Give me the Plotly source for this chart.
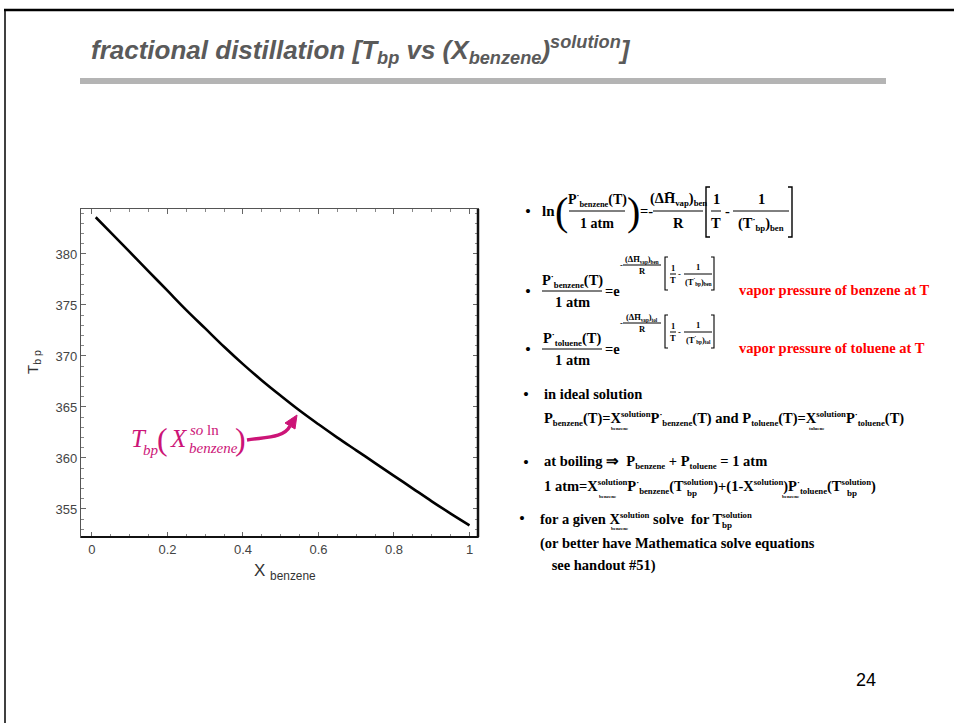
import plotly.graph_objects as go

# ---- data: ideal benzene/toluene solution boiling point at 1 atm ----
x_benzene = [0.01, 0.05, 0.10, 0.15, 0.20, 0.25, 0.30, 0.35, 0.40, 0.45, 0.50,
             0.55, 0.60, 0.65, 0.70, 0.75, 0.80, 0.85, 0.90, 0.95, 1.00]
T_bp = [383.6, 382.1, 380.2, 378.3, 376.4, 374.5, 372.7, 370.9, 369.2, 367.6, 366.1,
        364.65, 363.3, 362.0, 360.75, 359.5, 358.25, 357.0, 355.75, 354.55, 353.4]
x_ticks = [0, 0.2, 0.4, 0.6, 0.8, 1.0]
x_ticklabels = ["0", "0.2", "0.4", "0.6", "0.8", "1"]
y_ticks = [355, 360, 365, 370, 375, 380]

W, H = 954, 723
L, R, TOP, BOT = 81, 478, 209, 537
SERIF = "Liberation Serif, Times New Roman, serif"
SANS = "Liberation Sans, Arial, sans-serif"
MAGENTA = "#cc1477"
FS = 14.5  # body text size for the equations


def px(x):
    return (x - L) / (R - L)


def py(y):
    return (BOT - y) / (BOT - TOP)


annotations = []
shapes = []


def text(x, y, s, size=FS, color="black", family=SERIF, xa="left", ya="middle", angle=0):
    annotations.append(dict(x=px(x), y=py(y), xref="paper", yref="paper", text=s,
                            showarrow=False, xanchor=xa, yanchor=ya, textangle=angle,
                            font=dict(size=size, color=color, family=family)))


def seg(x0, y0, x1, y1, w=1.0, color="black"):
    shapes.append(dict(type="line", xref="paper", yref="paper", x0=px(x0), y0=py(y0),
                       x1=px(x1), y1=py(y1), line=dict(color=color, width=w)))


def bracket(x, y0, y1, side="left", arm=4, w=1.4):
    d = -arm if side == "right" else arm
    p = (f"M {px(x + d)},{py(y0)} L {px(x)},{py(y0)} L {px(x)},{py(y1)} "
         f"L {px(x + d)},{py(y1)}")
    shapes.append(dict(type="path", xref="paper", yref="paper", path=p,
                       line=dict(color="black", width=w)))


def frac(xc, ybar, num, den, half, size=FS, gap=12):
    text(xc, ybar - gap, num, size=size, xa="center")
    text(xc, ybar + gap, den, size=size, xa="center")
    seg(xc - half, ybar, xc + half, ybar, w=1)


def b(s):
    return f"<b>{s}</b>"


def sb(s, r=86):
    return f"<sub><span style='font-size:{r}%'>{s}</span></sub>"


def sp(s, r=86):
    return f"<sup><span style='font-size:{r}%'>{s}</span></sup>"


DOT = sp("·")
HBAR = "H\u0304"
BUL = 17

# ---- slide frame, title and rule ----
seg(4, 10, 960, 10, w=2.5)
seg(5, 10, 5, 730, w=1.5)
text(89, 50, "<b><i>fractional distillation [T<sub>bp</sub> vs (X<sub>benzene</sub>)"
     "<sup>solution</sup>]</i></b>", size=26, color="#5a5a5a", family=SANS)
shapes.append(dict(type="rect", xref="paper", yref="paper", x0=px(80), x1=px(886),
                   y0=py(78), y1=py(84), fillcolor="#b4b4b4", line=dict(width=0)))
text(866, 680, "24", size=18, family=SANS, xa="center")

# ---- equation 1 ----
y0 = 211
text(528, y0, "•", size=BUL, xa="center")
text(540, y0, b("ln"), size=15)
text(561, y0, "(", size=40, xa="center")
text(633, y0, ")", size=40, xa="center")
frac(597, y0, b(f"P{DOT}{sb('benzene')}(T)"), b("1 atm"), 28, size=14)
text(638, y0, b("=-"))
frac(678, y0, b(f"(Δ{HBAR}{sb('vap')}){sb('ben')}"), b("R"), 25)
bracket(706, 187, 237, "left")
bracket(792, 187, 237, "right")
frac(716, y0, b("1"), b("T"), 5)
text(727, y0, b("-"), xa="center")
frac(761, y0, b("1"), b(f"(T{DOT}{sb('bp')}){sb('ben')}"), 28)


# ---- equations 2 and 3 ----
def vapor_eq(yb, name, short, note):
    text(528, yb, "•", size=BUL, xa="center")
    frac(572, yb, b(f"P{DOT}{sb(name)}(T)"), b("1 atm"), 30, gap=11)
    text(603, yb, b("=e"))
    ye = yb - 26
    text(621, ye, b("-"), size=8.5, xa="center")
    frac(642, ye, b(f"(Δ{HBAR}{sb('vap')}){sb(short)}"), b("R"), 19, size=8.5, gap=6)
    bracket(665, yb - 34, yb - 1, "left", arm=3, w=1.1)
    bracket(714, yb - 34, yb - 1, "right", arm=3, w=1.1)
    frac(673, yb - 17, b("1"), b("T"), 3, size=8.5, gap=6)
    text(679, yb - 17, b("-"), size=8.5, xa="center")
    frac(698, yb - 17, b("1"), b(f"(T{DOT}{sb('bp')}){sb(short)}"), 14, size=8.5, gap=7)
    text(737, yb - 1, b(note), color="#ff0000")


vapor_eq(291, "benzene", "ben", "vapor pressure of benzene at T")
vapor_eq(349, "toluene", "tol", "vapor pressure of toluene at T")

# ---- ideal solution text ----
SOL = sp("solution")
text(526, 394, "•", size=BUL, xa="center")
text(542, 394, b("in ideal solution"))
text(542, 418, b(f"P{sb('benzene')}(T)=X{SOL}P{DOT}{sb('benzene')}(T) and "
                 f"P{sb('toluene')}(T)=X{SOL}P{DOT}{sb('toluene')}(T)"))
text(609, 428, b("benzene"), size=5)
text(807, 428, b("toluene"), size=5)

text(526, 462, "•", size=BUL, xa="center")
text(542, 462, b(f"at boiling ⇒  P{sb('benzene')} + P{sb('toluene')} = 1 atm"))
text(542, 486, b(f"1 atm=X{SOL}P{DOT}{sb('benzene')}(T{SOL})"
                 f"+(1-X{SOL})P{DOT}{sb('toluene')}(T{SOL})"))
text(597, 496, b("benzene"), size=5)
text(685, 493, b("bp"), size=9)
text(780, 496, b("benzene"), size=5)
text(845, 493, b("bp"), size=9)

text(522, 518, "•", size=BUL, xa="center")
text(538, 518, b(f"for a given X{SOL} solve  for T{SOL}"))
text(609, 528, b("benzene"), size=5)
text(720, 525, b("bp"), size=9)
text(538, 543, b("(or better have Mathematica solve equations"))
text(546, 565, b(" see handout #51)"))

# ---- axis titles ----
text(33, 362, "T<sub>b p</sub>", size=15, family=SANS, color="#333", xa="center", angle=-90)
text(285, 572, "X <sub>benzene</sub>", size=17, family=SANS, color="#333", xa="center")

# ---- magenta label with curved arrow ----
text(129, 438, "<i>T</i>", size=25, color=MAGENTA, xa="left")
text(141, 450, "<i>bp</i>", size=15, color=MAGENTA, xa="left")
text(162, 439, "(", size=32, color=MAGENTA, xa="center")
text(168, 438, "<i>X</i>", size=25, color=MAGENTA, xa="left")
text(188, 430, "<i>so</i> ln", size=15, color=MAGENTA, xa="left")
text(187, 448, "<i>benzene</i>", size=15, color=MAGENTA, xa="left")
text(240, 439, ")", size=32, color=MAGENTA, xa="center")
curve = (f"M {px(247)},{py(440)} C {px(266)},{py(437)} {px(284)},{py(438)} "
         f"{px(290)},{py(426)}")
shapes.append(dict(type="path", xref="paper", yref="paper", path=curve,
                   line=dict(color=MAGENTA, width=3.5)))
head = (f"M {px(297)},{py(415)} L {px(295)},{py(429)} L {px(285)},{py(423)} Z")
shapes.append(dict(type="path", xref="paper", yref="paper", path=head,
                   fillcolor=MAGENTA, line=dict(color=MAGENTA, width=1)))

# ---- heavier right/bottom frame edges ----
seg(R, TOP, R, BOT, w=2.5, color="#111")
seg(L, BOT, R, BOT, w=2.2, color="#111")

fig = go.Figure()
fig.add_trace(go.Scatter(x=x_benzene, y=T_bp, mode="lines",
                         line=dict(color="black", width=2.6, shape="spline"),
                         showlegend=False, hoverinfo="x+y"))

axis_common = dict(showgrid=False, zeroline=False, showline=True, linecolor="#555",
                   linewidth=1.2, mirror="ticks", ticks="inside", ticklen=5,
                   tickwidth=1, tickcolor="#666",
                   tickfont=dict(family=SANS, size=13, color="#444"))
fig.update_xaxes(range=[-0.029, 1.0225], tickvals=x_ticks, ticktext=x_ticklabels,
                 minor=dict(tick0=0, dtick=0.05, ticks="inside", ticklen=3,
                            tickcolor="#888"), **axis_common)
fig.update_yaxes(range=[352.25, 384.41], tickvals=y_ticks,
                 minor=dict(tick0=355, dtick=1, ticks="inside", ticklen=3,
                            tickcolor="#888"), **axis_common)

fig.update_layout(width=W, height=H, margin=dict(l=L, r=W - R, t=TOP, b=H - BOT),
                  paper_bgcolor="white", plot_bgcolor="white",
                  annotations=annotations, shapes=shapes)

fig.write_html("out.html")
